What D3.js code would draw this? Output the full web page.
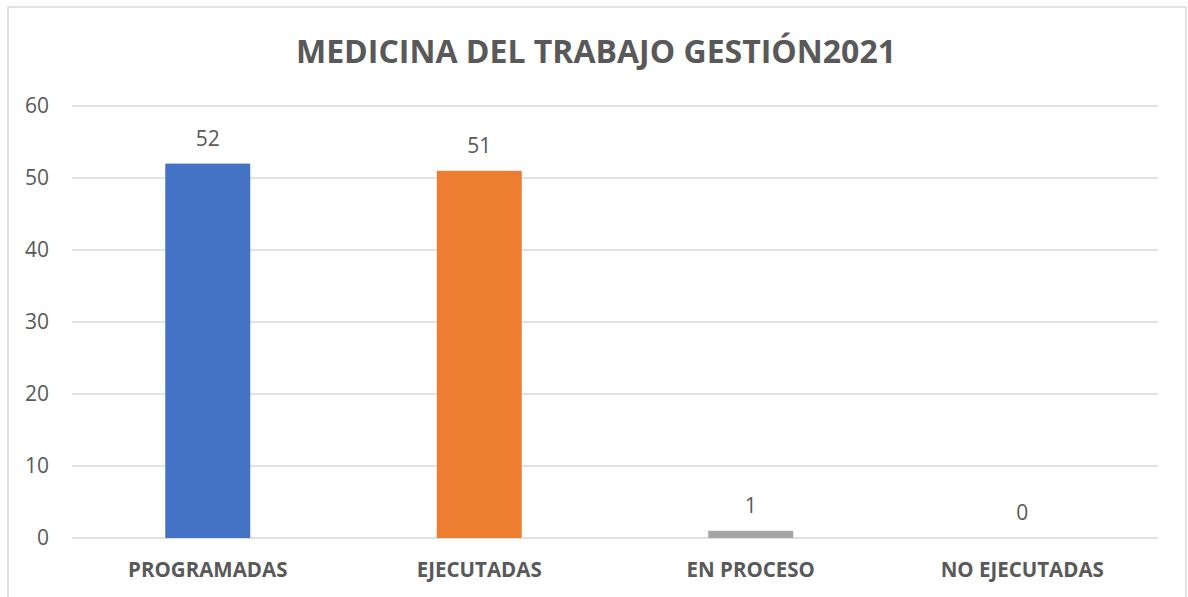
<!DOCTYPE html>
<html>
<head>
<meta charset="utf-8">
<script src="https://cdn.jsdelivr.net/npm/d3@7"></script>
<style>
    body { margin: 0; background: #fff; }
    text { font-family: "Open Sans", "Liberation Sans", sans-serif; fill: #595959; }
</style>
</head>
<body>
<div id="vis"></div>
<script>
    // Chart data
    var title = "MEDICINA DEL TRABAJO GESTIÓN2021";
    var categories = ["PROGRAMADAS", "EJECUTADAS", "EN PROCESO", "NO EJECUTADAS"];
    var values = [52, 51, 1, 0];
    var barColors = ["#4472C4", "#ED7D31", "#A5A5A5", "#FFC000"];
    var yTicks = [0, 10, 20, 30, 40, 50, 60];

    var width = 1188;
    var height = 597;
    var plot = { left: 72, right: 1158, top: 106, bottom: 538 };

    var svg = d3.select("#vis")
        .append("svg")
        .attr("width", width)
        .attr("height", height);

    // Outer chart border
    svg.append("rect")
        .attr("x", 8)
        .attr("y", 7)
        .attr("width", 1178)
        .attr("height", 600)
        .attr("fill", "none")
        .attr("stroke", "#d9d9d9")
        .attr("stroke-width", 1.5);

    var x = d3.scaleBand()
        .domain(categories)
        .range([plot.left, plot.right])
        .paddingInner(0.687)
        .paddingOuter(0.3435);

    var y = d3.scaleLinear()
        .domain([0, 60])
        .range([plot.bottom, plot.top]);

    // Gridlines
    svg.append("g")
        .selectAll("line")
        .data(yTicks)
        .enter().append("line")
        .attr("x1", plot.left)
        .attr("x2", plot.right)
        .attr("y1", d => y(d))
        .attr("y2", d => y(d))
        .attr("stroke", "#d9d9d9")
        .attr("stroke-width", 1.3);

    // Y axis labels
    var yAxis = d3.axisLeft(y).tickValues(yTicks).tickSize(0).tickPadding(0);
    var yg = svg.append("g")
        .attr("transform", "translate(49,0)")
        .call(yAxis);
    yg.select(".domain").remove();
    yg.selectAll("text")
        .attr("font-size", 21)
        .style("font-family", "'Open Sans', sans-serif")
        .attr("fill", "#595959");

    // Bars
    svg.append("g")
        .selectAll("rect")
        .data(values)
        .enter().append("rect")
        .attr("x", (d, i) => x(categories[i]))
        .attr("y", d => y(d))
        .attr("width", x.bandwidth())
        .attr("height", d => y(0) - y(d))
        .attr("fill", (d, i) => barColors[i]);

    // Value labels
    svg.append("g")
        .selectAll("text")
        .data(values)
        .enter().append("text")
        .attr("x", (d, i) => x(categories[i]) + x.bandwidth() / 2)
        .attr("y", d => y(d) - 18)
        .attr("text-anchor", "middle")
        .attr("font-size", 21)
        .text(d => d);

    // Category labels
    var xAxis = d3.axisBottom(x).tickSize(0).tickPadding(0);
    var xg = svg.append("g")
        .attr("transform", "translate(0," + 563 + ")")
        .call(xAxis);
    xg.select(".domain").remove();
    xg.selectAll("text")
        .attr("dy", 0)
        .attr("y", 14)
        .attr("font-size", 20.5)
        .attr("font-weight", "bold")
        .style("font-family", "'Open Sans', sans-serif")
        .attr("fill", "#595959");

    // Title
    svg.append("text")
        .attr("x", 596)
        .attr("y", 63)
        .attr("text-anchor", "middle")
        .attr("font-size", 32)
        .attr("font-weight", "bold")
        .text(title);
</script>
</body>
</html>
